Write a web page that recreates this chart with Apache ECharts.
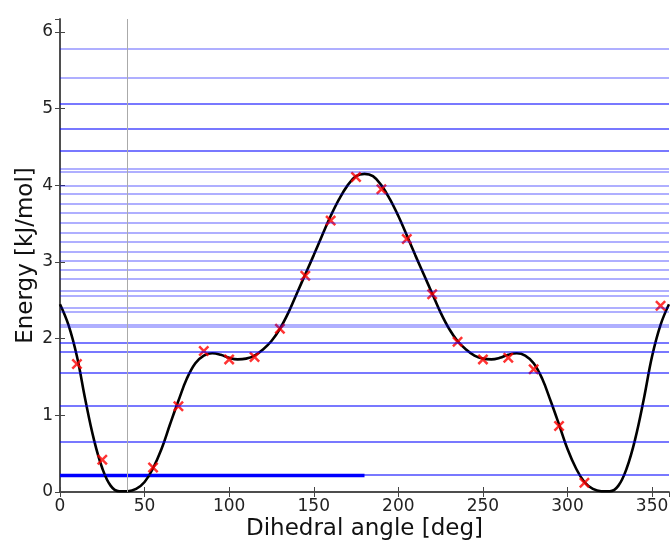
<!DOCTYPE html>
<html>
<head>
<meta charset="utf-8">
<script src="https://cdn.jsdelivr.net/npm/echarts@6/dist/echarts.min.js"></script>
<style>
  html, body { margin: 0; padding: 0; background: #fff; }
  #main { width: 670px; height: 544px; }
</style>
</head>
<body>
<div id="main"></div>
<script>
// fitted potential curve, read every 5 degrees
var curveAngles = [0, 5, 10, 15, 20, 25, 30, 35, 40, 45, 50, 55, 60, 65, 70, 75, 80, 85, 90,
    95, 100, 105, 110, 115, 120, 125, 130, 135, 140, 145, 150, 155, 160, 165, 170, 175, 180,
    185, 190, 195, 200, 205, 210, 215, 220, 225, 230, 235, 240, 245, 250, 255, 260, 265, 270,
    275, 280, 285, 290, 295, 300, 305, 310, 315, 320, 325, 330, 335, 340, 345, 350, 355, 360];
var curveEnergy = [2.45, 2.18, 1.77, 1.20, 0.69, 0.31, 0.08, 0.01, 0.01, 0.04, 0.13, 0.31, 0.56, 0.88, 1.19, 1.48, 1.68, 1.78, 1.81,
    1.79, 1.75, 1.73, 1.74, 1.78, 1.86, 1.97, 2.13, 2.34, 2.59, 2.84, 3.09, 3.35, 3.60, 3.82, 4.00, 4.12, 4.15,
    4.12, 4.00, 3.82, 3.60, 3.35, 3.09, 2.84, 2.59, 2.34, 2.13, 1.97, 1.86, 1.78, 1.74, 1.73, 1.75, 1.79, 1.81,
    1.78, 1.68, 1.48, 1.19, 0.88, 0.56, 0.31, 0.13, 0.04, 0.01, 0.01, 0.08, 0.31, 0.69, 1.20, 1.77, 2.18, 2.45];

// computed points (red crosses)
var pointAngles = [10, 25, 40, 55, 70, 85, 100, 115, 130, 145, 160, 175, 190, 205, 220, 235, 250, 265, 280, 295, 310, 355];
var pointEnergy = [1.67, 0.42, -0.03, 0.32, 1.12, 1.84, 1.73, 1.76, 2.13, 2.82, 3.54, 4.11, 3.95, 3.30, 2.58, 1.96, 1.73, 1.75, 1.60, 0.86, 0.12, 2.43];

// energy levels (horizontal lines)
var levels = [5.775, 5.405, 5.065, 5.065, 4.743, 4.743, 4.447, 4.447, 4.216, 4.176, 3.997, 3.893, 3.762, 3.641,
    3.514, 3.383, 3.261, 3.127, 3.013, 2.895, 2.778, 2.634, 2.560, 2.395, 2.350, 2.176, 2.154,
    1.950, 1.950, 1.828, 1.828, 1.553, 1.553, 1.118, 1.118, 0.664, 0.664, 0.216, 0.216];

var groundLevel = 0.216;
var groundRange = [0, 180];
var markAngle = 40;

var chart = echarts.init(document.getElementById('main'));

var curveData = curveAngles.map(function (a, i) { return [a, curveEnergy[i]]; });
var pointData = pointAngles.map(function (a, i) { return [a, pointEnergy[i]]; });

var axisColor = '#444';
var font = 'DejaVu Sans';
var cross = 'path://M0,1.6 L1.6,0 L5,3.4 L8.4,0 L10,1.6 L6.6,5 L10,8.4 L8.4,10 L5,6.6 L1.6,10 L0,8.4 L3.4,5 Z';

var option = {
    animation: false,
    grid: { left: 60, right: 1, top: 19, bottom: 52, outerBoundsMode: 'none' },
    xAxis: [{
        type: 'value', min: 0, max: 360, interval: 50,
        name: 'Dihedral angle [deg]', nameLocation: 'middle', nameGap: 26, nameMoveOverlap: false,
        nameTextStyle: { fontFamily: font, fontSize: 23, color: '#111' },
        axisLine: { lineStyle: { color: axisColor, width: 1.5 } },
        axisTick: { inside: true, length: 5, lineStyle: { color: axisColor } },
        axisLabel: { fontFamily: font, fontSize: 17, color: '#222', margin: 6, showMaxLabel: false },
        splitLine: { show: false }
    }, {
        type: 'value', min: 0, max: 360, interval: 50, position: 'top',
        axisLine: { lineStyle: { color: axisColor, width: 1.5 } },
        axisTick: { inside: true, length: 5, lineStyle: { color: axisColor } },
        axisLabel: { show: false },
        splitLine: { show: false }
    }],
    yAxis: [{
        type: 'value', min: 0, max: 6.17, interval: 1,
        name: 'Energy [kJ/mol]', nameLocation: 'middle', nameGap: 22, nameMoveOverlap: false,
        nameTextStyle: { fontFamily: font, fontSize: 23, color: '#111' },
        axisLine: { show: true, lineStyle: { color: axisColor, width: 1.5 } },
        axisTick: { show: true, inside: true, length: 5, lineStyle: { color: axisColor } },
        axisLabel: { fontFamily: font, fontSize: 17, color: '#222', margin: 7, showMaxLabel: false },
        splitLine: { show: false }
    }, {
        type: 'value', min: 0, max: 6.17, interval: 1, position: 'right',
        axisLine: { show: true, lineStyle: { color: axisColor, width: 1.5 } },
        axisTick: { show: true, inside: true, length: 5, lineStyle: { color: axisColor } },
        axisLabel: { show: false },
        splitLine: { show: false }
    }],
    series: [{
        type: 'line',
        data: [],
        markLine: {
            silent: true, symbol: ['none', 'none'], label: { show: false },
            lineStyle: { color: 'rgba(0,0,255,0.42)', width: 1.6, type: 'solid' },
            data: levels.map(function (v) { return { yAxis: v }; })
        }
    }, {
        type: 'line',
        data: [],
        markLine: {
            silent: true, symbol: ['none', 'none'], label: { show: false },
            lineStyle: { color: '#aaa', width: 1, type: 'solid' },
            data: [{ xAxis: markAngle }]
        }
    }, {
        type: 'line',
        data: groundRange.map(function (a) { return [a, groundLevel]; }),
        symbol: 'none',
        lineStyle: { color: '#0000ff', width: 3.5 }
    }, {
        type: 'line',
        data: curveData,
        smooth: 0.4,
        symbol: 'none',
        lineStyle: { color: '#000', width: 2.6 },
        z: 3
    }, {
        type: 'scatter',
        data: pointData,
        symbol: cross,
        symbolSize: 11,
        itemStyle: { color: '#ff0000' },
        z: 4
    }]
};
chart.setOption(option);
</script>
</body>
</html>
